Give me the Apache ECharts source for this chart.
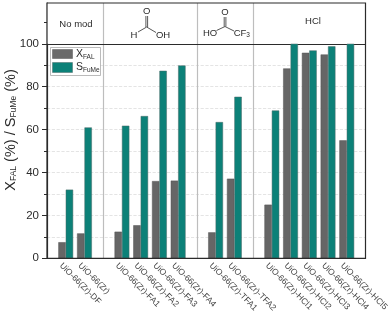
<!DOCTYPE html>
<html><head><meta charset="utf-8">
<style>html,body{margin:0;padding:0;background:#fff}#c{width:392px;height:315px}</style>
<script src="https://cdn.jsdelivr.net/npm/echarts@6/dist/echarts.min.js"></script>
</head><body><div id="c"></div>
<script>
const categories = ['\u00a0', 'UiO-66(Zr)-DF', 'UiO-66(Zr)', ' ', 'UiO-66(Zr)-FA1', 'UiO-66(Zr)-FA2', 'UiO-66(Zr)-FA3', 'UiO-66(Zr)-FA4', '  ', 'UiO-66(Zr)-TFA1', 'UiO-66(Zr)-TFA2', '   ', 'UiO-66(Zr)-HCl1', 'UiO-66(Zr)-HCl2', 'UiO-66(Zr)-HCl3', 'UiO-66(Zr)-HCl4', 'UiO-66(Zr)-HCl5', '    '];
const xFAL = [null, 7.5, 11.6, null, 12.4, 15.4, 36, 36.2, null, 12.1, 37.1, null, 25, 88.5, 95.8, 95, 55, null];
const sFuMe = [null, 32, 61, null, 61.8, 66.3, 87.4, 89.9, null, 63.5, 75.3, null, 68.9, 100, 96.9, 98.8, 100, null];
const separators = [' ', '  ', '   '];
const yTicks = [0, 20, 40, 60, 80, 100];
const panelLabels = ['No mod', 'HCl'];

const L = 47, T = 3, R = 365.5, B = 258.3;
const chart = echarts.init(document.getElementById('c'), null, {renderer: 'canvas'});
const font = '"Liberation Sans", Arial, sans-serif';
const ink = '#2b2b2b';
function mol(points) { return {type: 'polyline', shape: {points}, style: {stroke: '#444', lineWidth: 0.9, fill: 'none'}, silent: true, z: 20}; }
function txt(x, y, t, size) { return {type: 'text', x, y, style: {text: t, font: `${size}px ${font}`, fill: ink, textVerticalAlign: 'middle', textAlign: 'center'}, z: 20}; }
chart.setOption({
  animation: false,
  grid: {left: L, top: T, width: R - L, height: B - T, containLabel: false, outerBoundsMode: 'none', show: true, borderColor: ink, borderWidth: 1.2, backgroundColor: 'transparent', z: 5},
  legend: {show: false},
  xAxis: {
    type: 'category', data: categories, boundaryGap: false, containShape: false,
    axisTick: {show: false},
    axisLine: {lineStyle: {color: ink, width: 1.2}},
    axisLabel: {interval: 0, rotate: -45, fontFamily: font, fontSize: 8.5, color: '#444', margin: 1, align: 'left', verticalAlign: 'top', lineHeight: 14, showMinLabel: true, showMaxLabel: true}
  },
  yAxis: {
    type: 'value', min: 0, max: 119, interval: 20, position: 'left',
    axisLine: {show: true, lineStyle: {color: ink, width: 1.2}},
    axisTick: {show: true, length: 5, customValues: yTicks, lineStyle: {color: ink, width: 1}},
    minorTick: {show: true, splitNumber: 2, length: 3, lineStyle: {color: ink, width: 1}},
    splitLine: {show: true, lineStyle: {color: '#dddddd', type: 'dashed', width: 0.8}},
    minorSplitLine: {show: true, lineStyle: {color: '#dddddd', type: 'dashed', width: 0.8}},
    axisLabel: {fontFamily: font, fontSize: 11.5, color: ink, margin: 8, showMaxLabel: false, formatter: v => yTicks.includes(v) ? String(v) : ''}
  },
  series: [
    {name: 'X_FAL', type: 'bar', data: xFAL, barWidth: 7.4, barGap: '0%', clip: true, z: 3,
     itemStyle: {color: '#666666', borderColor: '#555', borderWidth: 0.5}},
    {name: 'S_FuMe', type: 'bar', data: sFuMe, barWidth: 7.4, clip: true, z: 3,
     itemStyle: {color: '#0c8178', borderColor: '#4d6b68', borderWidth: 0.5}},
    {name: 'guides', type: 'line', data: [], z: 1, silent: true,
     markArea: {silent: true, z: 1, itemStyle: {color: '#fff'}, data: [[{yAxis: 100, xAxis: categories[0]}, {yAxis: 119, xAxis: categories[17]}]]},
     markLine: {silent: true, symbol: 'none', z: 2, label: {show: false}, animation: false,
       lineStyle: {color: '#bdbdbd', type: 'solid', width: 1.2},
       data: separators.map(s => ({xAxis: s})).concat([{yAxis: 100, lineStyle: {color: ink, width: 1.2, type: 'solid'}}])}
    }
  ],
  graphic: [
    {type: 'text', x: 11, y: 130, rotation: Math.PI / 2, z: 20, style: {
      text: '{m|X}{s|FAL}{m| (%) / S}{s|FuMe}{m| (%)}', align: 'center', verticalAlign: 'middle',
      rich: {m: {fontFamily: font, fontSize: 14.5, fill: ink}, s: {fontFamily: font, fontSize: 8.5, fill: ink, verticalAlign: 'bottom', padding: [6, 0, 0, 0], lineHeight: 13}}
    }},
    {type: 'rect', shape: {x: 50.5, y: 47.5, width: 50, height: 28}, style: {fill: '#fff', stroke: '#aaa', lineWidth: 0.8}, z: 15},
    {type: 'rect', shape: {x: 52.5, y: 49.5, width: 20, height: 9}, style: {fill: '#6a6a6a', stroke: '#555', lineWidth: 0.5}, z: 16},
    {type: 'rect', shape: {x: 52.5, y: 62.5, width: 20, height: 10}, style: {fill: '#0c8178', stroke: '#4d6b68', lineWidth: 0.5}, z: 16},
    {type: 'text', x: 76, y: 54, style: {text: 'X', font: `10.5px ${font}`, fill: ink, textVerticalAlign: 'middle'}, z: 16},
    {type: 'text', x: 83, y: 57.5, style: {text: 'FAL', font: `6.5px ${font}`, fill: ink, textVerticalAlign: 'middle'}, z: 16},
    {type: 'text', x: 76, y: 67, style: {text: 'S', font: `10.5px ${font}`, fill: ink, textVerticalAlign: 'middle'}, z: 16},
    {type: 'text', x: 83, y: 70.5, style: {text: 'FuMe', font: `6.5px ${font}`, fill: ink, textVerticalAlign: 'middle'}, z: 16},
    txt(76, 24, panelLabels[0], 9.5),
    txt(313, 21.5, panelLabels[1], 9.5),
    txt(146.7, 11, 'O', 9.5), txt(134, 35, 'H', 9.5), txt(163, 35, 'OH', 9.5),
    mol([[138, 32], [146.7, 27], [156, 32.5]]),
    mol([[145.9, 27], [145.9, 16]]), mol([[147.6, 27], [147.6, 16]]),
    txt(225, 12, 'O', 9.5), txt(210, 33, 'HO', 9.5), txt(240, 33, 'CF', 9.5), txt(248, 35.5, '3', 6.5),
    mol([[216.5, 30.5], [225, 26.5], [234, 31]]),
    mol([[224.2, 26.5], [224.2, 17]]), mol([[225.9, 26.5], [225.9, 17]])
  ]
});
</script></body></html>
